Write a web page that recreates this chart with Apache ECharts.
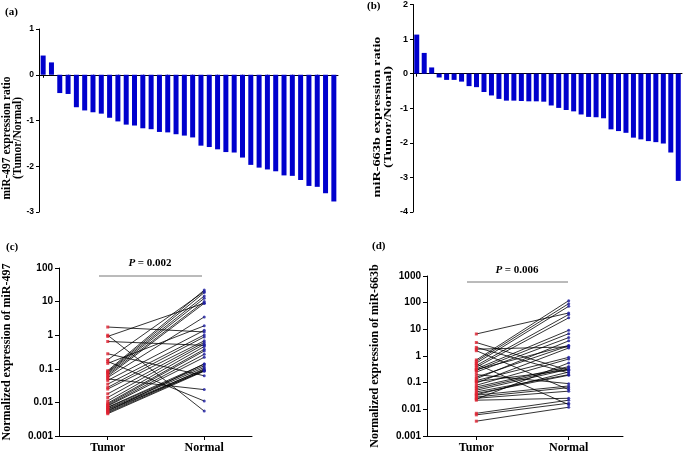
<!DOCTYPE html>
<html><head><meta charset="utf-8">
<script src="https://cdn.jsdelivr.net/npm/echarts@6/dist/echarts.min.js"></script>
<style>html,body{margin:0;padding:0;background:#fff}#c{width:685px;height:454px}</style>
</head><body><div id="c"></div>
<script>
// ---- data ----
const sampleIds = ['1','2','3','4','5','6','7','8','9','10','11','12','13','14','15','16','17','18',
  '19','20','21','22','23','24','25','26','27','28','29','30','31','32','33','34','35','36'];
const ratio497 = [0.42, 0.27, -0.40, -0.42, -0.71, -0.78, -0.82, -0.85, -0.94, -1.02, -1.09, -1.11,
  -1.17, -1.19, -1.25, -1.26, -1.30, -1.33, -1.37, -1.55, -1.58, -1.63, -1.69, -1.70,
  -1.81, -1.97, -2.03, -2.07, -2.11, -2.20, -2.21, -2.30, -2.43, -2.45, -2.59, -2.77];
const ratio663b = [1.13, 0.60, 0.18, -0.11, -0.18, -0.18, -0.23, -0.36, -0.39, -0.53, -0.63, -0.73,
  -0.78, -0.78, -0.79, -0.80, -0.80, -0.81, -0.92, -0.99, -1.05, -1.09, -1.18, -1.25,
  -1.26, -1.29, -1.61, -1.66, -1.71, -1.85, -1.90, -1.95, -1.98, -2.02, -2.28, -3.10];
const ratioTicks497 = [1, 0, -1, -2, -3];
const ratioTicks663b = [2, 1, 0, -1, -2, -3, -4];

const groupLabels = ['Tumor', 'Normal'];
const tumor497 = [1.75, 1.0, 0.92, 0.65, 0.28, 0.185, 0.165, 0.145, 0.088, 0.082, 0.078, 0.072,
  0.066, 0.060, 0.055, 0.050, 0.045, 0.035, 0.028, 0.025, 0.018, 0.014, 0.011, 0.0095,
  0.0088, 0.0082, 0.0078, 0.0072, 0.0070, 0.0065, 0.0062, 0.0058, 0.0055, 0.0052, 0.0049, 0.0046];
const normal497 = [1.25, 0.0055, 9.0, 0.50, 0.062, 20, 0.011, 1.9, 22, 18.5, 14.7, 12.5,
  10, 8.9, 3.5, 0.024, 1.4, 1.02, 0.89, 0.68, 0.61, 0.54, 0.46, 0.38,
  0.34, 0.27, 0.22, 0.138, 0.123, 0.11, 0.094, 0.087, 0.14, 0.10, 0.09, 0.085];
const tumor663b = [6.7, 3.2, 2.1, 1.8, 1.58, 0.71, 0.63, 0.54, 0.44, 0.38, 0.33, 0.29,
  0.25, 0.20, 0.16, 0.14, 0.12, 0.097, 0.080, 0.069, 0.060, 0.052, 0.045, 0.039,
  0.034, 0.029, 0.026, 0.022, 0.0071, 0.0062, 0.0036, 0.50, 0.31, 0.11, 0.035, 0.024];
const normal663b = [41, 0.29, 0.23, 2.2, 0.055, 119, 92, 73, 36, 27, 9.2, 6.9,
  4.9, 0.092, 2.4, 3.7, 0.89, 2.0, 0.77, 0.40, 0.36, 0.32, 0.20, 0.19,
  0.075, 0.065, 0.048, 0.026, 0.022, 0.017, 0.012, 0.015, 2.5, 0.30, 0.25, 0.55];
const pText497 = '0.002';
const pText663b = '0.006';

// ---- styles ----
const SERIF = '"Liberation Serif", "Times New Roman", serif';
const SANS = '"Liberation Sans", Arial, sans-serif';
const BLUE = '#0000cd';
const RED = '#e02030';
const NBLUE = '#1c1ca0';

function barY(grid, min, max, fs) {
  return {
    type: 'value', gridIndex: grid, min: min, max: max, interval: 1,
    axisLine: { show: true, onZero: false, lineStyle: { color: '#000', width: 1 } },
    axisTick: { show: true, length: 3, lineStyle: { color: '#000' } },
    axisLabel: { fontFamily: SANS, fontWeight: 'bold', fontSize: fs, color: '#000', margin: 5 },
    splitLine: { show: false }
  };
}
function barX(grid) {
  return {
    type: 'category', gridIndex: grid, data: sampleIds,
    axisLine: { show: true, onZero: true, lineStyle: { color: '#000', width: 1 } },
    axisTick: { show: true, alignWithLabel: true, length: 3, lineStyle: { color: '#000' } },
    axisLabel: { show: false }, splitLine: { show: false }
  };
}
function fmtLog(v) { return String(parseFloat(Number(v).toPrecision(3))); }
function logY(grid, max, name, split) {
  return {
    type: 'log', logBase: 10, gridIndex: grid, min: 0.001, max: max, splitNumber: split,
    name: name, nameLocation: 'middle', nameGap: 46, nameRotate: 90,
    nameTextStyle: { fontFamily: SERIF, fontWeight: 'bold', fontSize: 12, color: '#000' },
    axisLine: { show: true, onZero: false, lineStyle: { color: '#000', width: 1 } },
    axisTick: { show: true, length: 4, lineStyle: { color: '#000' } },
    axisLabel: { fontFamily: SANS, fontWeight: 'bold', fontSize: 10, color: '#000', margin: 6, formatter: fmtLog },
    splitLine: { show: false }, minorTick: { show: false }
  };
}
function pairX(grid, min, max) {
  return {
    type: 'value', gridIndex: grid, min: min, max: max,
    axisLine: { show: true, onZero: false, lineStyle: { color: '#000', width: 1 } },
    axisTick: { show: true, length: 4, customValues: [0, 1], lineStyle: { color: '#000' } },
    axisLabel: { customValues: [0, 1], fontFamily: SERIF, fontWeight: 'bold', fontSize: 12, color: '#000', margin: 6,
      formatter: v => groupLabels[Math.round(v)] },
    splitLine: { show: false }
  };
}
function pairSeries(tumor, normal, g) {
  const out = tumor.map((t, i) => ({
    type: 'line', xAxisIndex: g, yAxisIndex: g, data: [[0, t], [1, normal[i]]],
    symbol: 'none', silent: true, z: 2,
    lineStyle: { color: '#000', width: 0.8 }
  }));
  out.push({ type: 'scatter', xAxisIndex: g, yAxisIndex: g, data: tumor.map(t => [0, t]),
    symbol: 'rect', symbolSize: 3, itemStyle: { color: RED }, z: 3, silent: true });
  out.push({ type: 'scatter', xAxisIndex: g, yAxisIndex: g, data: normal.map(n => [1, n]),
    symbol: 'circle', symbolSize: 3, itemStyle: { color: NBLUE }, z: 3, silent: true });
  return out;
}
function label(x, y, t) {
  return { type: 'text', left: x, top: y, style: { text: t, font: 'bold 11px ' + SERIF, fill: '#000' } };
}
function pLabel(cx, y, p) {
  return { type: 'text', x: cx, y: y, style: {
    text: '{i|P} = ' + p, align: 'center', verticalAlign: 'middle', fill: '#000',
    font: 'bold 11px ' + SERIF,
    rich: { i: { fontStyle: 'italic', fontWeight: 'bold', fontFamily: SERIF, fontSize: 11 } } } };
}
function pLine(x1, x2, y) {
  return { type: 'line', shape: { x1: x1, y1: y, x2: x2, y2: y }, style: { stroke: '#777', lineWidth: 1 } };
}
// (b)'s source panel is stretched vertically; its axis title is drawn stretched the same way
function vTitle(cx, cy, t, fs, stretch) {
  return { type: 'text', x: cx, y: cy, rotation: Math.PI / 2, scaleX: stretch, scaleY: 1,
    style: { text: t, align: 'center', verticalAlign: 'middle', fill: '#000',
      font: 'bold ' + fs + 'px ' + SERIF, lineHeight: 11 } };
}

const chart = echarts.init(document.getElementById('c'), null, { renderer: 'canvas' });
chart.setOption({
  animation: false,
  backgroundColor: '#fff',
  grid: [
    { left: 39, top: 29, width: 299, height: 183, containLabel: false },
    { left: 413, top: 4, width: 269, height: 208, containLabel: false },
    { left: 59, top: 268, width: 193, height: 169, containLabel: false },
    { left: 427, top: 276, width: 196, height: 161, containLabel: false }
  ],
  xAxis: [barX(0), barX(1), pairX(2, -0.505, 1.495), pairX(3, -0.534, 1.588)],
  yAxis: [
    barY(0, ratioTicks497[ratioTicks497.length - 1], ratioTicks497[0], 8.5),
    barY(1, ratioTicks663b[ratioTicks663b.length - 1], ratioTicks663b[0], 9),
    logY(2, 100, 'Normalized expression of miR-497', 5),
    logY(3, 1000, 'Normalized expression of miR-663b', 6)
  ],
  series: [
    { type: 'bar', xAxisIndex: 0, yAxisIndex: 0, data: ratio497, barWidth: 5, itemStyle: { color: BLUE } },
    { type: 'bar', xAxisIndex: 1, yAxisIndex: 1, data: ratio663b, barWidth: 5, itemStyle: { color: BLUE } }
  ].concat(pairSeries(tumor497, normal497, 2), pairSeries(tumor663b, normal663b, 3)),
  graphic: [
    label(5, 7, '(a)'), label(367, 1, '(b)'), label(6, 242, '(c)'), label(372, 241, '(d)'),
    vTitle(12.5, 138, 'miR-497 expression ratio\n(Tumor/Normal)', 11.5, 1),
    vTitle(383, 117, 'miR-663b expression ratio\n(Tumor/Normal)', 11, 1.3),
    pLabel(150, 263, pText497), pLine(99, 202, 276),
    pLabel(517, 270, pText663b), pLine(467, 568, 282)
  ]
});
</script>
</body></html>
